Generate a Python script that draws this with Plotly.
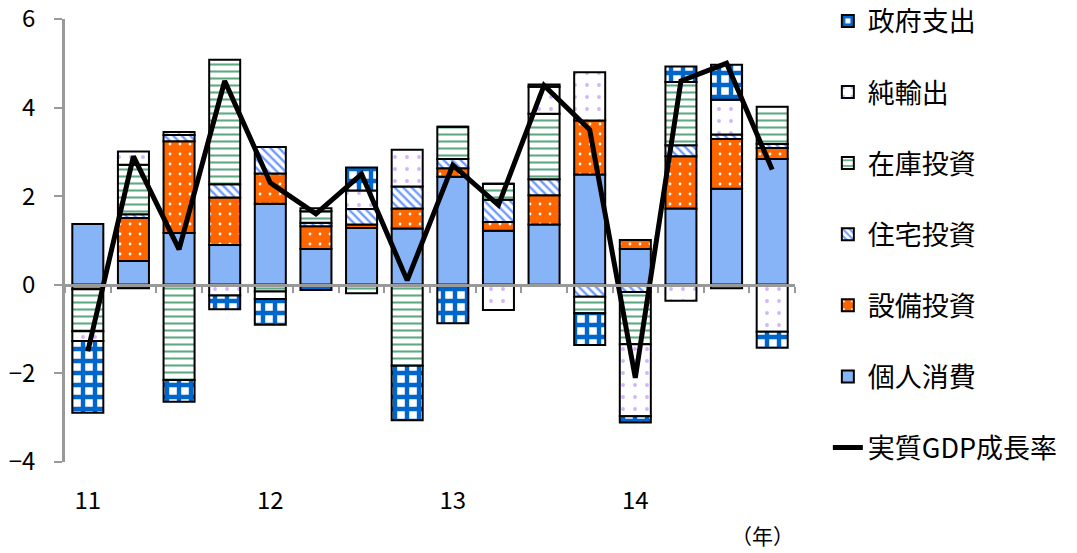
import plotly.graph_objects as go

quarters = ["2011Q1", "2011Q2", "2011Q3", "2011Q4",
            "2012Q1", "2012Q2", "2012Q3", "2012Q4",
            "2013Q1", "2013Q2", "2013Q3", "2013Q4",
            "2014Q1", "2014Q2", "2014Q3", "2014Q4"]
year_tick_pos = ["2011Q1", "2012Q1", "2013Q1", "2014Q1"]
year_tick_text = ["11", "12", "13", "14"]

consumption = [1.37, 0.54, 1.17, 0.90, 1.83, 0.81, 1.28, 1.27, 2.44, 1.22, 1.36, 2.49, 0.81, 1.72, 2.17, 2.84]
capex       = [-0.10, 0.97, 2.07, 1.07, 0.68, 0.51, 0.08, 0.45, 0.19, 0.20, 0.66, 1.22, 0.20, 1.18, 1.12, 0.25]
housing     = [0.0, 0.08, 0.14, 0.30, 0.60, 0.08, 0.35, 0.50, 0.21, 0.50, 0.36, -0.27, -0.16, 0.25, 0.10, 0.09]
inventory   = [-0.95, 1.12, -2.15, 2.81, -0.15, 0.26, -0.19, -1.83, 0.73, 0.36, 1.48, -0.37, -1.18, 1.43, -0.08, 0.84]
net_exports = [-0.22, 0.30, 0.07, -0.24, -0.17, 0.07, 0.42, 0.83, 0.0, -0.57, 0.61, 1.09, -1.63, -0.36, 0.79, -1.06]
government  = [-1.62, -0.08, -0.49, -0.31, -0.58, -0.12, 0.52, -1.23, -0.87, 0.0, 0.05, -0.72, -0.14, 0.35, 0.79, -0.36]
gdp_growth  = [-1.5, 2.9, 0.8, 4.6, 2.3, 1.6, 2.5, 0.1, 2.7, 1.8, 4.5, 3.5, -2.1, 4.6, 5.0, 2.6]

FONT = "Noto Sans CJK JP"

series = [
    ("個人消費", consumption, dict(color="#86B4F6"), 6),
    ("設備投資", capex, dict(color="#FF6600", pattern=dict(shape=".", fgcolor="white", bgcolor="#FF6600", size=10, solidity=0.06, fillmode="replace")), 5),
    ("住宅投資", housing, dict(color="white", pattern=dict(shape="\\", fgcolor="#6F9BFF", bgcolor="white", size=6, solidity=0.4, fillmode="replace")), 4),
    ("在庫投資", inventory, dict(color="white", pattern=dict(shape="-", fgcolor="#5DAA82", bgcolor="white", size=7, solidity=0.3, fillmode="replace")), 3),
    ("純輸出", net_exports, dict(color="white", pattern=dict(shape=".", fgcolor="#D2B4FF", bgcolor="white", size=12, solidity=0.08, fillmode="replace")), 2),
    ("政府支出", government, dict(color="white", pattern=dict(shape="+", fgcolor="#0066CC", bgcolor="white", size=12, solidity=0.6, fillmode="replace")), 1),
]

fig = go.Figure()
for name, vals, marker, rank in series:
    m = dict(marker)
    m["line"] = dict(color="black", width=2)
    fig.add_trace(go.Bar(x=quarters, y=vals, name=name, marker=m,
                         legendrank=rank, legendgroup=name))

fig.add_trace(go.Scatter(x=quarters, y=gdp_growth, name="実質GDP成長率", mode="lines",
                         line=dict(color="black", width=5), xaxis="x2",
                         legendrank=7, legendgroup="gdp"))

fig.update_layout(
    width=1077, height=553,
    margin=dict(l=65, r=282, t=19, b=91, autoexpand=False),
    paper_bgcolor="white", plot_bgcolor="white",
    barmode="relative", bargap=0.32,
    font=dict(family=FONT, color="black"),
    showlegend=True,
    legend=dict(x=1.045, y=1.05, xanchor="left", yanchor="top",
                font=dict(size=27, family=FONT), traceorder="grouped",
                tracegroupgap=33, bgcolor="rgba(0,0,0,0)", maxheight=1),
    xaxis=dict(type="category", categoryorder="array", categoryarray=quarters,
               range=[-0.5, 15.5], anchor="free", position=0.4,
               showline=True, linecolor="#999999", linewidth=2.5,
               ticks="outside", ticklen=6, tickwidth=2, tickcolor="#999999",
               tickson="boundaries", showticklabels=False, showgrid=False,
               zeroline=False),
    xaxis2=dict(type="category", categoryorder="array", categoryarray=quarters,
                range=[-0.5, 15.5], overlaying="x", anchor="y", side="bottom",
                showline=False, ticks="", showgrid=False, zeroline=False,
                tickmode="array", tickvals=year_tick_pos, ticktext=year_tick_text,
                tickfont=dict(size=24, family=FONT), ticklabelstandoff=22),
    yaxis=dict(range=[-4, 6], tickmode="array", tickvals=[-4, -2, 0, 2, 4, 6],
               showline=True, linecolor="#999999", linewidth=2.5,
               ticks="outside", ticklen=8, tickwidth=2, tickcolor="#999999",
               showgrid=False, zeroline=False, ticklabeloverflow="allow",
               tickfont=dict(size=24, family=FONT), ticklabelstandoff=14),
    annotations=[dict(text="（年）", xref="paper", yref="paper",
                      x=(762 - 65) / 730, y=-(535 - 462) / 442,
                      xanchor="center", yanchor="middle", showarrow=False,
                      font=dict(size=21, family=FONT))],
)

fig.write_html("out.html")
